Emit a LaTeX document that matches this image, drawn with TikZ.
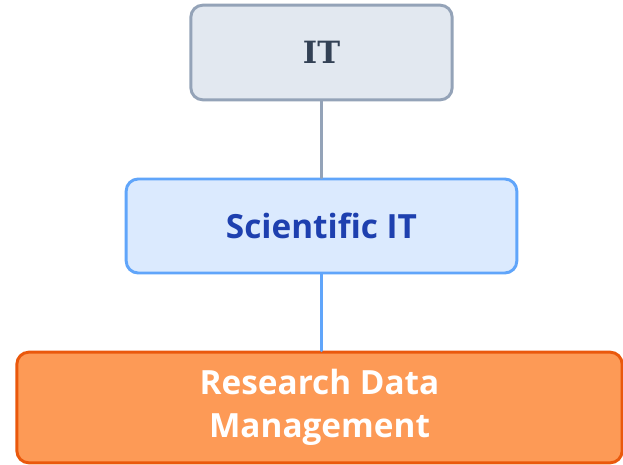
\documentclass[tikz,border=0pt]{standalone}
\usepackage{fontspec}
\setmainfont{Open Sans}
\newfontfamily\itfont{DejaVu Serif}
\usetikzlibrary{positioning}
\definecolor{itfill}{HTML}{E2E8F0}
\definecolor{itdraw}{HTML}{94A3B8}
\definecolor{ittext}{HTML}{334155}
\definecolor{scifill}{HTML}{DBEAFE}
\definecolor{scidraw}{HTML}{60A5FA}
\definecolor{scitext}{HTML}{1E40AF}
\definecolor{rdmfill}{HTML}{FD9A56}
\definecolor{rdmdraw}{HTML}{EA580C}
\tikzset{
  unitbox/.style={rectangle,rounded corners=9pt,line width=2.2pt,align=center,
    font=\fontsize{25}{32}\selectfont\bfseries,inner sep=0pt},
}

\begin{document}
\begin{tikzpicture}[x=0.75pt,y=-0.75pt,line cap=round,line join=round]
	\useasboundingbox (0,0) rectangle (623,464);
	\clip (0,0) rectangle (623,464);
	\fill[white] (0,0) rectangle (623,464);
	% boxes
	\node[unitbox,fill=itfill,draw=itdraw,text=ittext,minimum width=196pt,minimum height=71pt] (it) at (321.5,52.5) {\fontsize{23}{30}\itfont\bfseries IT};
	\node[unitbox,fill=scifill,draw=scidraw,text=scitext,minimum width=293pt,minimum height=70.5pt] (sci) at (321.5,226) {Scientific IT};
	\node[unitbox,fill=rdmfill,draw=rdmdraw,text=white,minimum width=454pt,minimum height=83pt] (rdm) at (319.5,407.5) {Research Data\\Management};
	% links
	\draw[itdraw,line width=2.2pt] (it) -- (sci);
	\draw[scidraw,line width=2.2pt] (sci) -- (rdm.north -| sci.south);
\end{tikzpicture}
\end{document}
